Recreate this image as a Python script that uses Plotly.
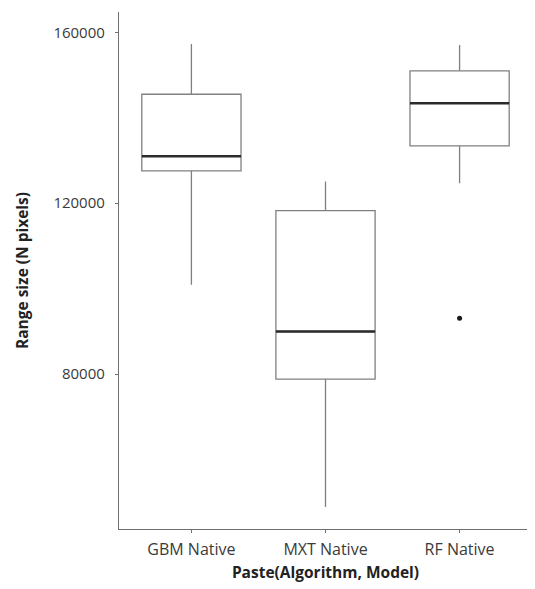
import plotly.graph_objects as go

categories = ["GBM Native", "MXT Native", "RF Native"]
upper_whisker = [157260, 125060, 157030]
q3_values = [145500, 118270, 150950]
median_values = [131000, 89970, 143390]
q1_values = [127560, 78840, 133400]
lower_whisker = [100900, 48900, 124680]
outlier_cats = ["RF Native"]
outlier_values = [93100]
y_tick_values = [80000, 120000, 160000]
y_tick_labels = ["80000", "120000", "160000"]

FONT = "Open Sans"
BOX_COLOR = "#808080"

fig = go.Figure()
fig.add_trace(go.Box(
    x=categories, q1=q1_values, median=median_values, q3=q3_values,
    lowerfence=lower_whisker, upperfence=upper_whisker,
    width=0.74, whiskerwidth=0, fillcolor="rgba(255,255,255,0)",
    line=dict(color=BOX_COLOR, width=1.3), boxpoints=False, showlegend=False,
    hoverinfo="skip",
))
# thick median lines
fig.add_trace(go.Box(
    x=categories, q1=median_values, median=median_values, q3=median_values,
    lowerfence=median_values, upperfence=median_values,
    width=0.74, whiskerwidth=0, fillcolor="rgba(0,0,0,0)",
    line=dict(color="#2b2b2b", width=2.6), boxpoints=False, showlegend=False,
    hoverinfo="skip",
))
fig.add_trace(go.Scatter(
    x=outlier_cats, y=outlier_values, mode="markers",
    marker=dict(color="#1a1a1a", size=5), showlegend=False,
))

fig.update_layout(
    width=527, height=581,
    margin=dict(l=111, r=3, t=4, b=60),
    paper_bgcolor="white", plot_bgcolor="white",
    boxmode="overlay",
    font=dict(family=FONT, color="#3a3a3a"),
    xaxis=dict(
        type="category", categoryorder="array", categoryarray=categories,
        range=[-0.54, 2.54], showline=True, linecolor="#707070", linewidth=1.3,
        ticks="outside", ticklen=3, tickcolor="#707070", showgrid=False,
        tickfont=dict(size=16, color="#3a3a3a"), ticklabelstandoff=3,
        title=dict(text="<b>Paste(Algorithm, Model)</b>", font=dict(size=15.5, color="#222"), standoff=7),
    ),
    yaxis=dict(
        range=[43750, 164750], tickvals=y_tick_values, ticktext=y_tick_labels,
        showline=True, linecolor="#707070", linewidth=1.3,
        ticks="outside", ticklen=3, tickcolor="#707070", showgrid=False, zeroline=False,
        tickfont=dict(size=15, color="#3a3a3a"), ticklabelstandoff=7,
        title=dict(text="<b>Range size (N pixels)</b>", font=dict(size=15.5, color="#222"), standoff=20),
    ),
)

fig.write_html("out.html")
